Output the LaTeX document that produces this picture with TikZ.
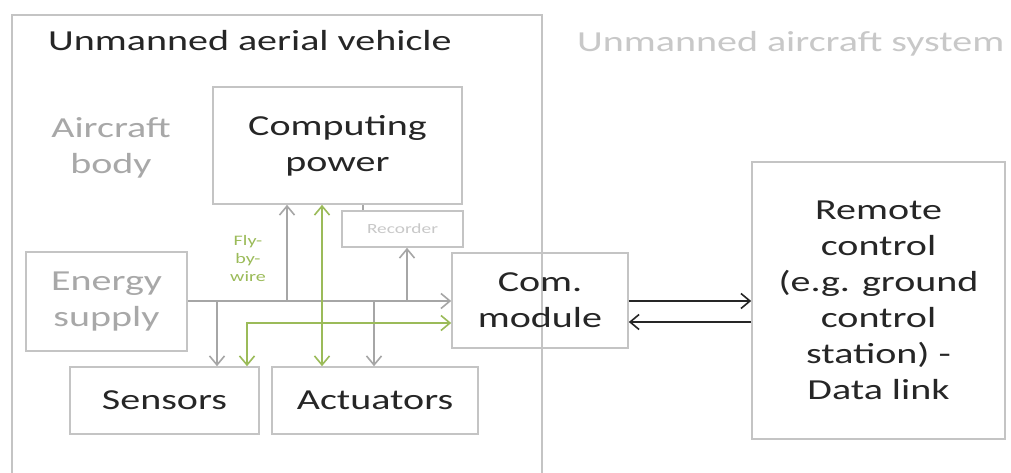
\documentclass[tikz,border=0pt]{standalone}
\usepackage{fontspec}
\setmainfont{Carlito}[FakeStretch=1.38]
\usetikzlibrary{arrows.meta}

\definecolor{ink}{HTML}{262626}
\definecolor{frame}{HTML}{C4C4C4}
\definecolor{wire}{HTML}{A6A6A6}
\definecolor{faint}{HTML}{A8A8A8}
\definecolor{pale}{HTML}{C8C8C8}
\definecolor{fbw}{HTML}{9BBB59}

\tikzset{
  bigfont/.style={font=\fontsize{29}{36}\selectfont},
  blockbox/.style={draw=frame, line width=1.6pt, inner sep=0pt, align=center,
    bigfont, text=ink},
  chev/.tip={Straight Barb[length=9pt, width=15pt, line width=1.6pt]},
  greyline/.style={draw=wire, line width=1.8pt},
  greyarrow/.style={greyline, -chev},
  greenline/.style={draw=fbw, line width=1.8pt},
  darkarrow/.style={draw=ink, line width=1.8pt, -chev},
}

\begin{document}
\begin{tikzpicture}[x=1pt, y=-1pt]
  \useasboundingbox (0,0) rectangle (1011,473);
  \fill[white] (0,0) rectangle (1011,473);
  \clip (0,0) rectangle (1011,473);

  % vehicle frame, running past the lower edge
  \draw[draw=frame, line width=1.6pt] (12,500) -- (12,15) -- (542,15) -- (542,500);

  % headings
  \node[anchor=base west, bigfont, text=ink, inner sep=0pt] (uavtitle) at (48,51)
    {Unmanned aerial vehicle};
  \node[anchor=base west, bigfont, text=pale, inner sep=0pt] (uastitle) at (577,52)
    {Unmanned aircraft system};
  \node[bigfont, text=faint, align=center, inner sep=0pt] (body) at (111,148)
    {Aircraft\\body};

  % blocks
  \node[blockbox, minimum width=249pt, minimum height=117pt] (comp) at (337.5,145.5)
    {Computing\\power};
  \node[blockbox, minimum width=121pt, minimum height=36pt,
        font=\fontsize{14}{17}\selectfont, text=pale] (rec) at (402.5,229) {Recorder};
  \node[blockbox, minimum width=161pt, minimum height=99pt, text=faint] (energy)
    at (106.5,301.5) {Energy\\supply};
  \node[blockbox, minimum width=176pt, minimum height=95pt] (com) at (540,300.5)
    {Com.\\module};
  \node[blockbox, minimum width=189pt, minimum height=67pt] (sens) at (164.5,400.5)
    {Sensors};
  \node[blockbox, minimum width=206pt, minimum height=67pt] (act) at (375,400.5)
    {Actuators};
  \node[blockbox, minimum width=253pt, minimum height=277pt] (remote) at (878.5,300.5)
    {Remote\\control\\(e.g. ground\\control\\station) -\\Data link};

  \node[font=\fontsize{14.5}{18}\selectfont, text=fbw, align=center, inner sep=0pt]
    (fbwlabel) at (248,259) {Fly-\\by-\\wire};

  % energy bus and its branches
  \coordinate (busS) at (217,301);
  \coordinate (busC) at (287,301);
  \coordinate (busA) at (374,301);
  \coordinate (busR) at (407,301);
  \draw[greyarrow] (energy.east |- busS) -- (com.west |- busS);
  \draw[greyarrow] (busS) -- (busS |- sens.north);
  \draw[greyarrow] (busC) -- (busC |- comp.south);
  \draw[greyarrow] (busA) -- (busA |- act.north);
  \draw[greyarrow] (busR) -- (busR |- rec.south);
  \coordinate (recTap) at (363,208);
  \draw[greyline] (recTap |- rec.north) -- (recTap |- comp.south);

  % fly-by-wire links
  \coordinate (fbwV) at (322,300);
  \coordinate (fbwL) at (247,323);
  \draw[greenline, chev-chev] (fbwV |- comp.south) -- (fbwV |- act.north);
  \draw[greenline, chev-chev] (fbwL |- sens.north) |- (com.west |- fbwL);

  % data link
  \coordinate (upLink) at (600,301);
  \coordinate (downLink) at (600,322);
  \draw[darkarrow] (com.east |- upLink) -- (remote.west |- upLink);
  \draw[darkarrow] (remote.west |- downLink) -- (com.east |- downLink);
\end{tikzpicture}
\end{document}
